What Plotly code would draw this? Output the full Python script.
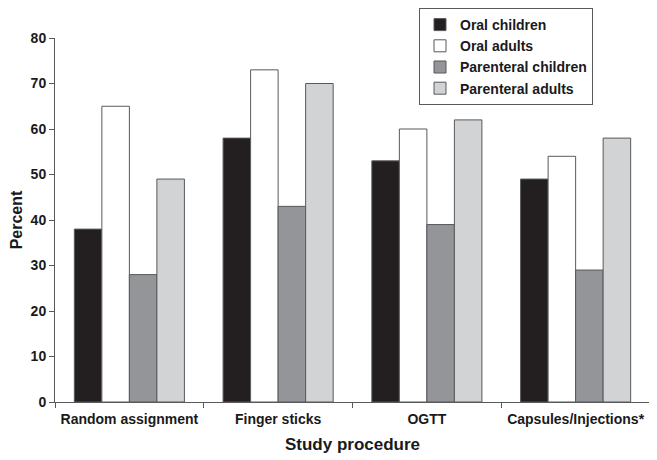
import plotly.graph_objects as go

categories = ["Random assignment", "Finger sticks", "OGTT", "Capsules/Injections*"]
series_names = ["Oral children", "Oral adults", "Parenteral children", "Parenteral adults"]
oral_children = [38, 58, 53, 49]
oral_adults = [65, 73, 60, 54]
parenteral_children = [28, 43, 39, 29]
parenteral_adults = [49, 70, 62, 58]
y_ticks = [0, 10, 20, 30, 40, 50, 60, 70, 80]

series_values = [oral_children, oral_adults, parenteral_children, parenteral_adults]
colors = ["#231f20", "#ffffff", "#939598", "#d1d3d4"]

font_family = "Liberation Sans, Arial, sans-serif"

# page body has an 8px margin, so figure coords = screen coords - 8
L, R, T, B = 47, 15, 30, 66
plot_w = 657 - L - R
plot_h = 460 - T - B

fig = go.Figure()
for name, vals, col in zip(series_names, series_values, colors):
    fig.add_trace(go.Bar(
        x=categories, y=vals, name=name,
        marker=dict(color=col, line=dict(color="#58595b", width=1)),
    ))

fig.update_layout(
    width=657, height=460,
    margin=dict(l=L, r=R, t=T, b=B, autoexpand=False),
    paper_bgcolor="white", plot_bgcolor="white",
    barmode="group", bargap=0.26, bargroupgap=0,
    font=dict(family=font_family, color="#1a1a1a", size=14, weight="bold"),
    showlegend=True,
    legend=dict(
        x=(411 - L) / plot_w, y=(T + plot_h - 0) / plot_h, xanchor="left", yanchor="top",
        bgcolor="white", bordercolor="#58595b", borderwidth=1,
        font=dict(family=font_family, size=14, weight="bold", color="#1a1a1a"),
        tracegroupgap=0, itemwidth=30,
    ),
    xaxis=dict(
        showline=True, linecolor="#58595b", linewidth=1,
        ticks="outside", ticklen=5, tickcolor="#58595b", tickson="boundaries",
        ticklabelstandoff=4,
        showgrid=False, automargin=False,
        tickfont=dict(family=font_family, size=14, weight="bold"),
        title=dict(text="Study procedure", standoff=12,
                   font=dict(family=font_family, size=17, weight="bold")),
    ),
    yaxis=dict(
        range=[0, 80], tickvals=y_ticks,
        showline=True, linecolor="#58595b", linewidth=1,
        ticks="outside", ticklen=5, tickcolor="#58595b",
        showgrid=False, zeroline=False, automargin=False,
        tickfont=dict(family=font_family, size=14, weight="bold"),
        title=dict(text="Percent", standoff=8,
                   font=dict(family=font_family, size=16, weight="bold")),
    ),
)

fig.write_html("out.html")
